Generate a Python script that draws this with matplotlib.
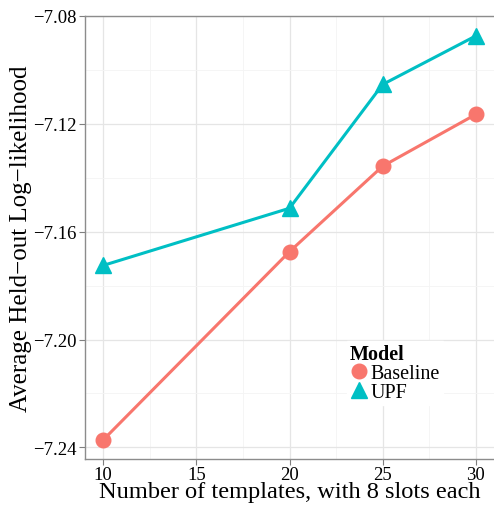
import matplotlib
matplotlib.use("Agg")
import matplotlib.pyplot as plt
from matplotlib.ticker import FixedLocator, FuncFormatter

plt.rcParams['font.family'] = ['Liberation Serif', 'DejaVu Serif']

templates = [10, 20, 25, 30]
baseline = [-7.2372, -7.1674, -7.1357, -7.1165]
upf = [-7.1725, -7.1513, -7.1054, -7.0874]

x_ticks = [10, 15, 20, 25, 30]
y_ticks = [-7.24, -7.20, -7.16, -7.12, -7.08]

fig = plt.figure(figsize=(4.94, 5.06), dpi=100)
ax = fig.add_axes([85 / 494, 46 / 506, 409 / 494, 443 / 506])

ax.plot(templates, baseline, color='#F8766D', lw=2.2, marker='o', ms=10.5,
        label='Baseline', zorder=3)
ax.plot(templates, upf, color='#00BFC4', lw=2.2, marker='^', ms=12,
        label='UPF', zorder=3)

ax.set_xlim(9.02, 30.98)
ax.set_ylim(-7.2443, -7.08)

ax.xaxis.set_major_locator(FixedLocator(x_ticks))
ax.yaxis.set_major_locator(FixedLocator(y_ticks))
ax.xaxis.set_minor_locator(FixedLocator([12.5, 17.5, 22.5, 27.5]))
ax.yaxis.set_minor_locator(FixedLocator([-7.22, -7.18, -7.14, -7.10]))
ax.yaxis.set_major_formatter(FuncFormatter(lambda v, p: f"{v:.2f}".replace('-', '\u2212')))

ax.grid(True, which='major', color='#e5e5e5', lw=0.9)
ax.grid(True, which='minor', color='#f4f4f4', lw=0.6)
ax.set_axisbelow(True)
ax.tick_params(which='minor', length=0)
ax.tick_params(which='major', length=4, color='#7f7f7f', labelsize=13.5,
               labelcolor='black', pad=2)
ax.tick_params(axis='x', pad=1)

for side in ['left', 'bottom', 'top']:
    ax.spines[side].set_color('#8c8c8c')
    ax.spines[side].set_linewidth(1.0)
ax.spines['right'].set_visible(False)

ax.set_xlabel('Number of templates, with 8 slots each', fontsize=17.6)
ax.xaxis.set_label_coords(0.5, -0.049)
ax.set_ylabel('Average Held\u2212out Log\u2212likelihood', fontsize=18)
ax.yaxis.set_label_coords(-0.13, 0.5)

leg = ax.legend(title='Model', loc='upper left', bbox_to_anchor=(0.64, 0.266),
                fontsize=14.5, title_fontsize=14.5, frameon=True, fancybox=False,
                edgecolor='white', framealpha=1, handlelength=0.9,
                handletextpad=0.15, borderpad=0.15, labelspacing=0.0,
                borderaxespad=0)
leg.get_title().set_fontweight('bold')
leg._legend_box.align = 'left'
for h in leg.legend_handles:
    h.set_linestyle('')

fig.savefig('out.png', dpi=100)
